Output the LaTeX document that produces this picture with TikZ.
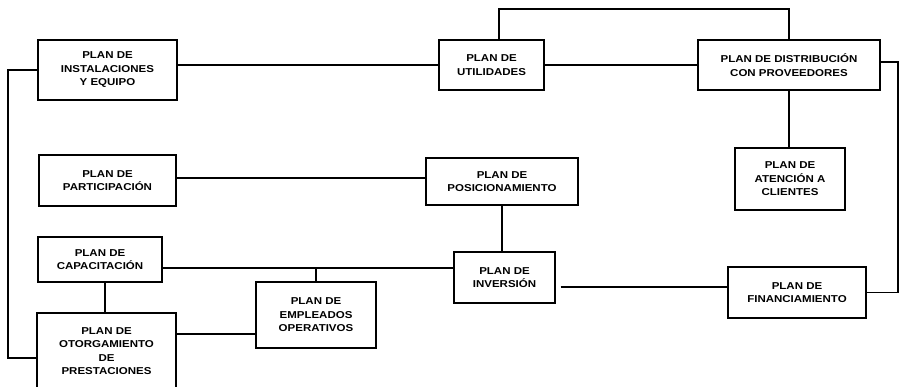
\documentclass[tikz,border=0pt]{standalone}
\usepackage{fontspec}
\newfontfamily\planfont{Liberation Sans}[FakeStretch=1.15,
  BoldFeatures={FakeStretch=1.15}]
\usepackage{tikz}

\begin{document}
\begin{tikzpicture}[x=1pt,y=-1pt,line width=1.1pt,
    every node/.style={draw,rectangle,align=center,inner sep=0pt,
      font=\planfont\bfseries\fontsize{10}{13.5}\selectfont}]
    \useasboundingbox (0,0) rectangle (904,387);

    \node [minimum width=139pt, minimum height=60pt] (inst) at (107.5,70)
    {PLAN DE\\INSTALACIONES\\Y EQUIPO}; \node [minimum width=105pt,
    minimum height=50pt] (util) at (491.5,65) {PLAN DE\\UTILIDADES};
    \node [minimum width=182pt, minimum height=50pt] (dist) at (789,65)
    {PLAN DE DISTRIBUCIÓN\\CON PROVEEDORES}; \node [minimum width=110pt,
    minimum height=62pt] (aten) at (790,179) {PLAN DE\\ATENCIÓN A\\CLIENTES};
    \node [minimum width=137pt, minimum height=51pt] (part) at (107.5,180.5)
    {PLAN DE\\PARTICIPACIÓN}; \node [minimum width=152pt, minimum
    height=47pt] (pos) at (502,181.5) {PLAN DE\\POSICIONAMIENTO};
    \node [minimum width=124pt, minimum height=45pt] (cap) at (100,259.5)
    {PLAN DE\\CAPACITACIÓN}; \node [minimum width=139pt, minimum
    height=76pt] (otor) at (106.5,351) {PLAN DE\\OTORGAMIENTO\\DE\\PRESTACIONES};
    \node [minimum width=120pt, minimum height=66pt] (empl) at (316,315)
    {PLAN DE\\EMPLEADOS\\OPERATIVOS}; \node [minimum width=101pt, minimum
    height=51pt] (inv) at (504.5,277.5) {PLAN DE\\INVERSIÓN};
    \node [minimum width=138pt, minimum height=51pt] (fin) at (797,292.5)
    {PLAN DE\\FINANCIAMIENTO};

    \coordinate (loopT) at (499,9); \coordinate (loopR) at (898,62);
    \coordinate (loopL) at (8,65); \coordinate (capline) at (0,268);
    \coordinate (lowline) at (0,334); \coordinate (finline) at (0,287);
    \coordinate (partline) at (0,178);

    \draw (util.west -| inst.east) -- (util.west); \draw (util.east) --
    (dist.west); \draw (util.north -| loopT) -- (loopT) -| (dist.north);
    \draw (loopR -| dist.east) -- (loopR) |- (fin.east); \draw (dist.south)
    -- (dist.south |- aten.north); \draw (inst.west) -- (inst.west -| loopL)
    |- ([yshift=-7pt]otor.west); \draw (partline -| part.east) -- (partline
    -| pos.west); \draw (pos.south) -- (pos.south |- inv.north);
    \draw (capline -| cap.east) -- (capline -| inv.west); \draw (empl.north)
    -- (empl.north |- capline); \draw ([xshift=5pt]cap.south) --
    ([xshift=5pt]cap.south |- otor.north); \draw (lowline -| otor.east) --
    (lowline -| empl.west); \draw ([xshift=5pt]finline -| inv.east) --
    (finline -| fin.west);
  \end{tikzpicture}
\end{document}
